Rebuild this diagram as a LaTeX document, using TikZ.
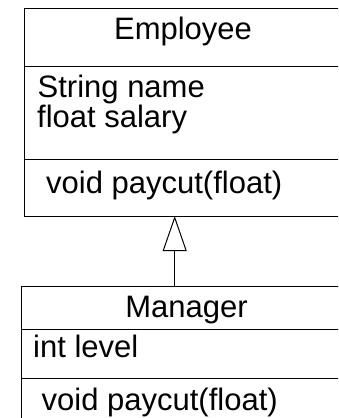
\documentclass[tikz,border=0pt]{standalone}
\usepackage{fontspec}
\setmainfont{Liberation Sans}
\usetikzlibrary{arrows.meta}
\tikzset{
  umlbox/.style={draw=black, line width=1pt},
  umltext/.style={inner sep=0pt, anchor=base west, font=\fontsize{31}{34}\selectfont},
  umltitle/.style={inner sep=0pt, anchor=base, font=\fontsize{31}{34}\selectfont},
  inherit/.style={draw=black, line width=1pt, -{Triangle[open, length=35pt, width=24pt]}}
}
\begin{document}
\begin{tikzpicture}[x=1pt, y=-1pt]
  \useasboundingbox (0,0) rectangle (338,418);
  \clip (0,0) rectangle (338,418);
  \fill[white] (0,0) rectangle (338,418);

  % Employee class
  \draw[umlbox] (24,8) rectangle (341,216);
  \draw[umlbox] (24,66) -- (341,66);
  \draw[umlbox] (24,159) -- (341,159);
  \node[umltitle] (emptitle) at (183,39) {Employee};
  \node[umltext] (empname) at (37.5,97) {String name};
  \node[umltext] (empsalary) at (37,127) {float salary};
  \node[umltext] (emppaycut) at (46,193) {void paycut(float)};

  % Manager class
  \draw[umlbox] (21,286) rectangle (352,430);
  \draw[umlbox] (21,329) -- (352,329);
  \draw[umlbox] (21,378) -- (352,378);
  \node[umltitle] (mgrtitle) at (186.5,317) {Manager};
  \node[umltext] (mgrlevel) at (33,357) {int level};
  \node[umltext] (mgrpaycut) at (41.5,410) {void paycut(float)};

  % Generalisation: Manager inherits from Employee
  \coordinate (empbottom) at (174.7,216);
  \coordinate (mgrtop) at (174.7,286);
  \draw[inherit] (mgrtop) -- (empbottom);
\end{tikzpicture}
\end{document}
